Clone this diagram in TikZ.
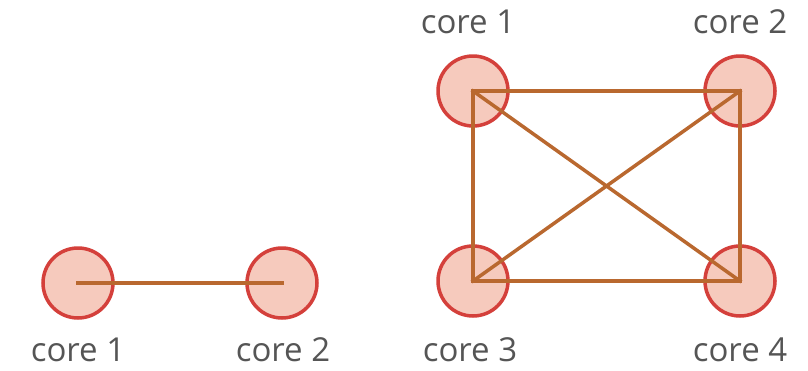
\documentclass[tikz,border=0pt]{standalone}
\usepackage{fontspec}
\setmainfont{Open Sans}
\definecolor{corefill}{HTML}{F6CABD}
\definecolor{coreedge}{HTML}{D4403B}
\definecolor{linkcol}{HTML}{B9682F}
\definecolor{labelcol}{HTML}{555555}
\begin{document}
\begin{tikzpicture}[x=1pt,y=-1pt,
  core/.style={circle,minimum size=70pt,inner sep=0pt,fill=corefill,draw=coreedge,line width=3.5pt},
  link/.style={draw=linkcol,line width=3.5pt,line cap=rect},
  corelabel/.style={text=labelcol,font=\fontsize{33}{36}\selectfont,inner sep=0pt}]
\useasboundingbox (0,0) rectangle (808,370);
% two-core system
\node[core] (a1) at (78,283) {};
\node[core] (a2) at (282,283) {};
\draw[link] (a1.center) -- (a2.center);
\node[corelabel] (la1) at (78,350) {core 1};
\node[corelabel] (la2) at (283,350) {core 2};
% four-core system, fully connected
\node[core] (b1) at (473,91) {};
\node[core] (b2) at (740,91) {};
\node[core] (b3) at (473,281) {};
\node[core] (b4) at (740,281) {};
\draw[link] (b1.center) -- (b2.center) -- (b4.center) -- (b3.center) -- cycle;
\draw[link] (b1.center) -- (b4.center);
\draw[link] (b3.center) -- (b2.center);
\node[corelabel] (lb1) at (468,22) {core 1};
\node[corelabel] (lb2) at (740,22) {core 2};
\node[corelabel] (lb3) at (470,350) {core 3};
\node[corelabel] (lb4) at (740,350) {core 4};
\end{tikzpicture}
\end{document}
